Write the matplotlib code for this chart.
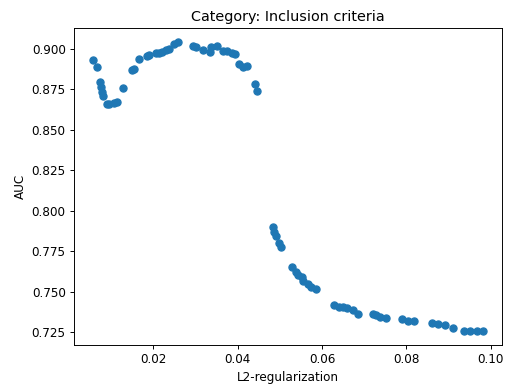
import matplotlib
matplotlib.use("Agg")
import matplotlib.pyplot as plt

# L2-regularization values and AUC scores
l2_reg = [
    0.00587, 0.00667, 0.00746, 0.00769, 0.00786, 0.00809, 0.00904, 0.00959,
    0.01077, 0.01141, 0.01283, 0.01503, 0.01557, 0.01669, 0.01865, 0.01912,
    0.02071, 0.02149, 0.02206, 0.02301, 0.02372, 0.02504, 0.02599, 0.02954,
    0.03018, 0.03176, 0.03349, 0.03373, 0.03508, 0.03657, 0.03744, 0.03863,
    0.03941, 0.04043, 0.04123, 0.04218, 0.04414, 0.04454,
    0.04847, 0.04871, 0.04911, 0.04982, 0.05030, 0.05297, 0.05377, 0.05439,
    0.05520, 0.05557, 0.05662, 0.05733, 0.05851, 0.06291, 0.06409, 0.06504,
    0.06599, 0.06741, 0.06859, 0.07214, 0.07278, 0.07373, 0.07515, 0.07886,
    0.08043, 0.08185, 0.08596, 0.08753, 0.08911, 0.09108, 0.09361, 0.09503,
    0.09661, 0.09803,
]
auc = [
    0.8933, 0.8891, 0.8798, 0.8767, 0.8736, 0.8712, 0.8661, 0.8661,
    0.8667, 0.8672, 0.8761, 0.8867, 0.8875, 0.8937, 0.8958, 0.8964,
    0.8975, 0.8975, 0.8984, 0.8995, 0.9001, 0.9032, 0.9042, 0.9019,
    0.9011, 0.8994, 0.8983, 0.9014, 0.9019, 0.8990, 0.8988, 0.8974,
    0.8969, 0.8907, 0.8890, 0.8895, 0.8782, 0.8741,
    0.7897, 0.7870, 0.7841, 0.7798, 0.7777, 0.7654, 0.7619, 0.7602,
    0.7591, 0.7564, 0.7547, 0.7530, 0.7514, 0.7418, 0.7404, 0.7404,
    0.7397, 0.7389, 0.7362, 0.7362, 0.7356, 0.7342, 0.7336, 0.7332,
    0.7321, 0.7321, 0.7307, 0.7301, 0.7295, 0.7274, 0.7259, 0.7259,
    0.7259, 0.7259,
]

dpi = 86
fig = plt.figure(figsize=(508 / dpi, 389 / dpi), dpi=dpi)
ax = fig.add_axes([0.1457, 0.1131, 0.8425, 0.8157])
ax.scatter(l2_reg, auc)
ax.set_xlabel("L2-regularization")
ax.set_ylabel("AUC")
ax.set_title("Category: Inclusion criteria")
fig.savefig("out.png", dpi=dpi)
